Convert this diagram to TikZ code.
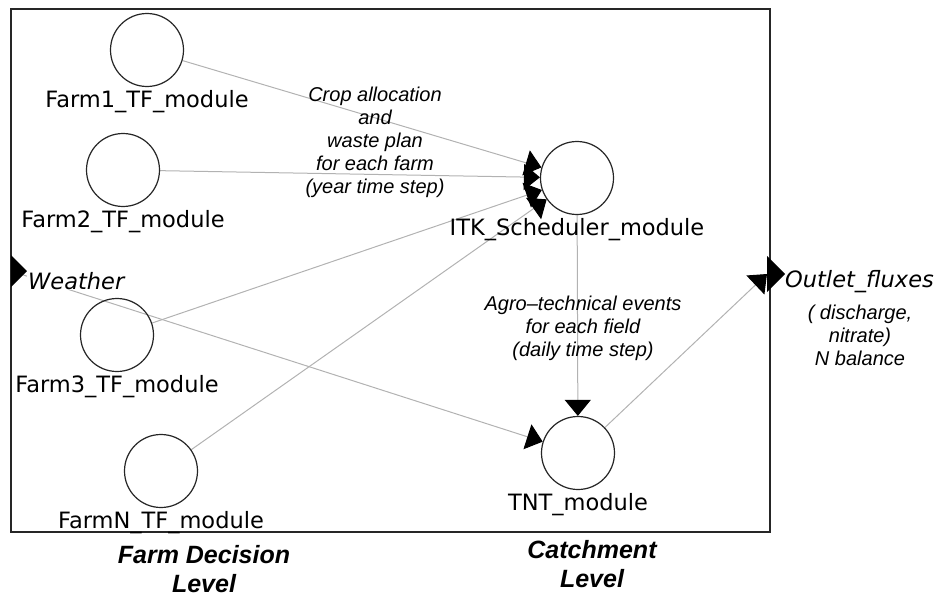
\documentclass[tikz,border=0pt]{standalone}
\usepackage{fontspec}
\setmainfont{DejaVu Sans}
\newfontfamily\notefont{Liberation Sans}
\usetikzlibrary{arrows.meta,positioning,backgrounds}

\begin{document}
\begin{tikzpicture}[
    x=1pt,y=-1pt,
    module/.style={circle,draw=black!85,line width=1.2pt,minimum size=73pt,inner sep=0pt},
    modname/.style={font=\fontsize{22.5}{26}\selectfont,inner sep=1pt},
    portname/.style={font=\itshape\fontsize{22.5}{26}\selectfont,inner sep=1pt},
    note/.style={font=\notefont\itshape\fontsize{20}{23}\selectfont,align=center},
    level/.style={font=\notefont\bfseries\itshape\fontsize{25}{29}\selectfont,align=center,inner sep=1pt},
    flow/.style={draw=black!30,line width=1pt,-{Triangle[length=16pt,width=26pt,color=black]}}
]
\useasboundingbox (0,0) rectangle (938,597);
\draw[line width=1.5pt,black!85] (11,9) rectangle (770,532);

\node[module] (farm1) at (147,50) {};
\node[module] (farm2) at (123,170) {};
\node[module] (farm3) at (117,335) {};
\node[module] (farmN) at (161,471) {};
\node[module] (itk) at (577,178) {};
\node[module] (tnt) at (578,453) {};

\node[modname,below=2pt of farm1] (farm1name) {Farm1\_TF\_module};
\node[modname,below=2pt of farm2] (farm2name) {Farm2\_TF\_module};
\node[modname,below=2pt of farm3] (farm3name) {Farm3\_TF\_module};
\node[modname,below=2pt of farmN] (farmNname) {FarmN\_TF\_module};
\node[modname,below=2pt of itk] (itkname) {ITK\_Scheduler\_module};
\node[modname,below=2pt of tnt] (tntname) {TNT\_module};

\coordinate (wport) at (11,271);
\coordinate (oport) at (767,274);
\fill (wport) ++(0,-16) -- ++(16,16) -- ++(-16,16) -- cycle;
\fill (oport) ++(0,-18) -- ++(18,18) -- ++(-18,18) -- cycle;
\node[portname,anchor=base west,fill=white] (weather) at (27,289) {Weather};
\node[portname,anchor=base west] (outlet) at (784,287) {Outlet\_fluxes};
\node[note] (outletnote) at (860,335) {( discharge,\\nitrate)\\N balance};

\begin{scope}[on background layer]
\foreach \f in {farm1,farm2,farm3,farmN}
  \draw[flow] (\f) -- (itk);
\draw[flow] (wport) -- (tnt);
\draw[flow] (itk) -- (tnt);
\draw[flow] (tnt) -- (oport);
\end{scope}

\node[note] (cropnote) at (375,142) {Crop allocation\\and\\waste plan\\for each farm\\(year time step)};
\node[note] (agronote) at (583,328) {Agro–technical events\\for each field\\(daily time step)};

\node[level] (farmlevel) at (204,569) {Farm Decision\\Level};
\node[level] (catchlevel) at (592,564) {Catchment\\Level};
\end{tikzpicture}
\end{document}
